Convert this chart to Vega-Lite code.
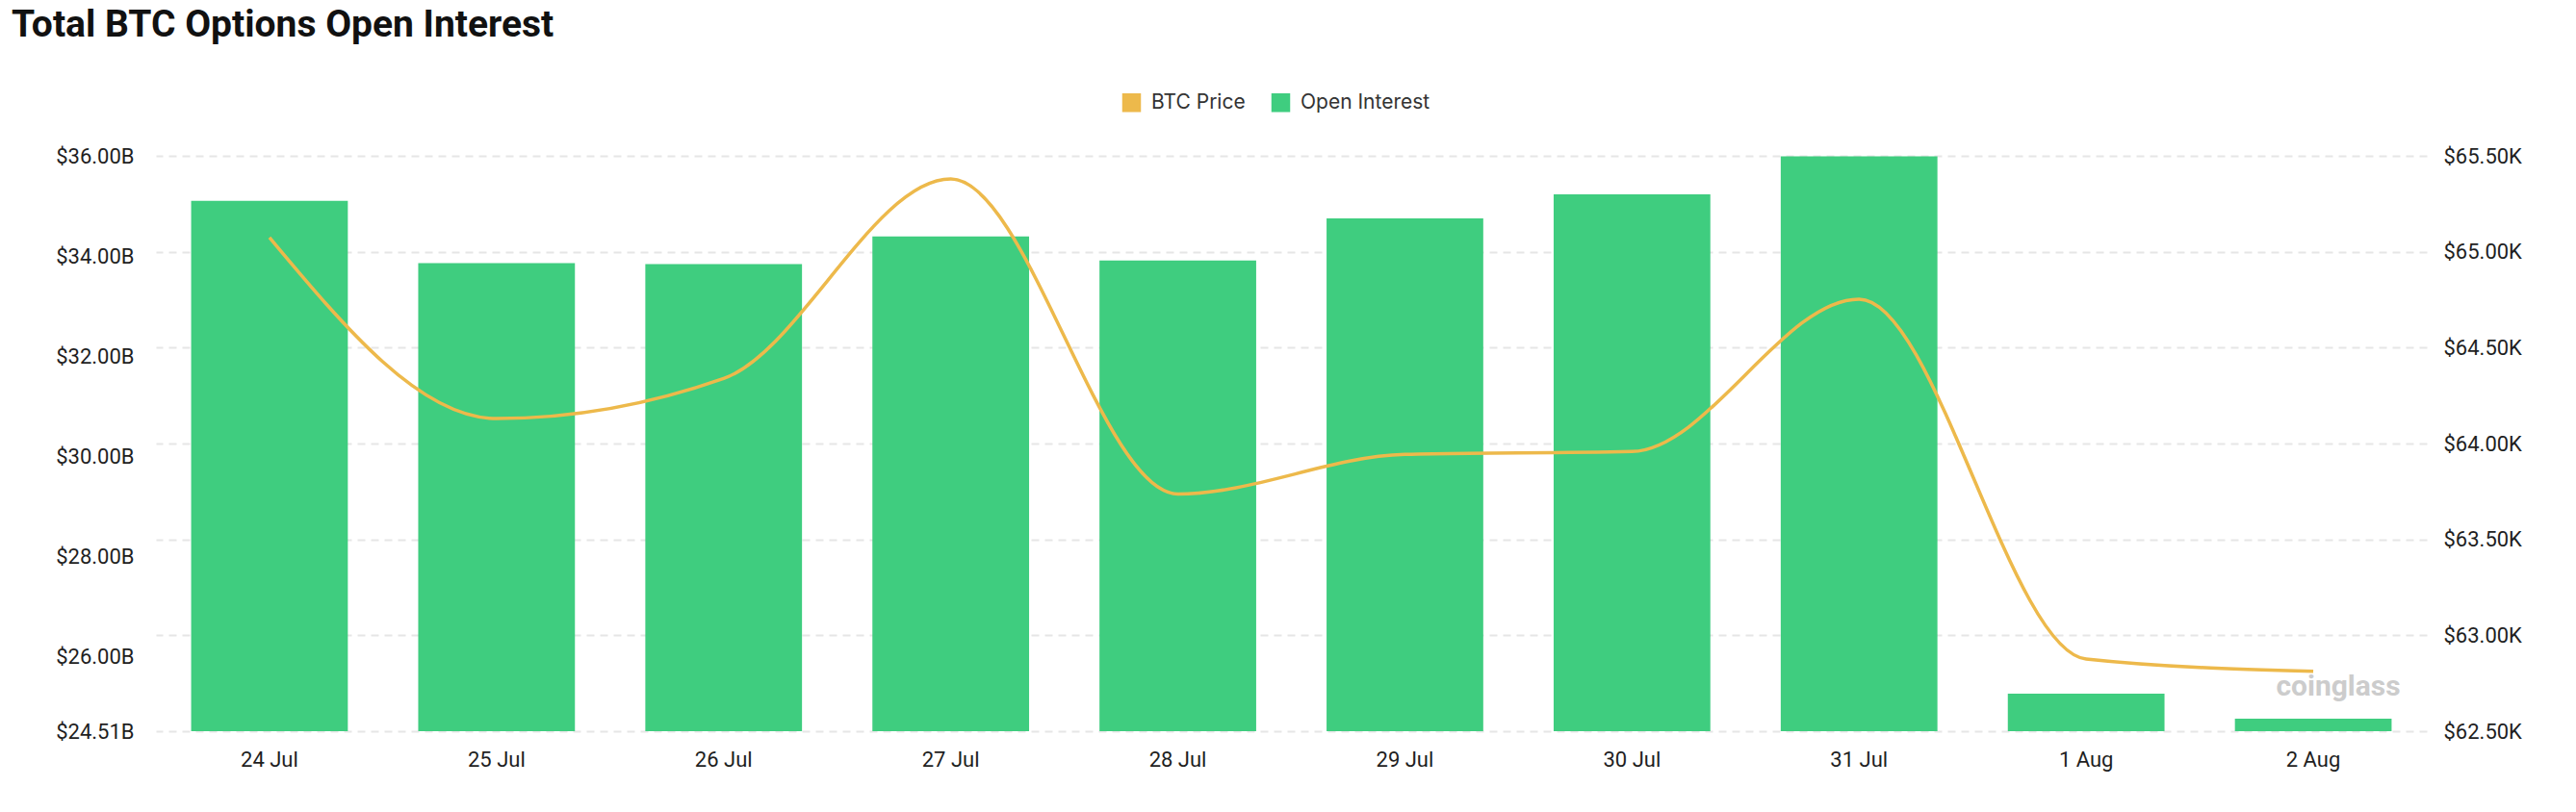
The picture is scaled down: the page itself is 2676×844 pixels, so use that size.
{
  "$schema": "https://vega.github.io/schema/vega-lite/v6.json",
  "width": 2359,
  "height": 598,
  "autosize": {"type": "none"},
  "padding": {"left": 162, "top": 162, "right": 155, "bottom": 84},
  "background": "white",
  "title": {
    "text": "Total BTC Options Open Interest",
    "anchor": "start",
    "frame": "group",
    "font": "Roboto",
    "fontSize": 39,
    "fontWeight": "bold",
    "color": "#111111",
    "dx": -150,
    "offset": 50
  },
  "data": {
    "values": [
      {"date": "24 Jul", "oi": 35.10, "price": 65074},
      {"date": "25 Jul", "oi": 33.86, "price": 64130},
      {"date": "26 Jul", "oi": 33.84, "price": 64339},
      {"date": "27 Jul", "oi": 34.39, "price": 65379},
      {"date": "28 Jul", "oi": 33.91, "price": 63737},
      {"date": "29 Jul", "oi": 34.75, "price": 63943},
      {"date": "30 Jul", "oi": 35.23, "price": 63958},
      {"date": "31 Jul", "oi": 35.99, "price": 64753},
      {"date": "1 Aug", "oi": 25.26, "price": 62876},
      {"date": "2 Aug", "oi": 24.76, "price": 62812}
    ]
  },
  "encoding": {
    "x": {
      "field": "date",
      "type": "nominal",
      "sort": null,
      "scale": {"paddingInner": 0.31, "paddingOuter": 0.155},
      "axis": {
        "title": null,
        "domain": false,
        "ticks": false,
        "labelAngle": 0,
        "labelPadding": 19,
        "labelFont": "Roboto",
        "labelFontSize": 22,
        "labelColor": "#1f1f1f"
      }
    }
  },
  "layer": [
    {
      "mark": {"type": "bar", "color": "#3fcd7f"},
      "encoding": {
        "y": {
          "field": "oi",
          "type": "quantitative",
          "scale": {"domain": [24.51, 36], "zero": false, "nice": false},
          "axis": {
            "title": null,
            "orient": "left",
            "values": [24.51, 26, 28, 30, 32, 34, 36],
            "labelExpr": "'$' + format(datum.value, '.2f') + 'B'",
            "grid": false,
            "domain": false,
            "ticks": false,
            "labelPadding": 23,
            "labelFont": "Roboto",
            "labelFontSize": 22,
            "labelColor": "#1f1f1f"
          }
        },
        "y2": {"datum": 24.51},
        "color": {
          "datum": "Open Interest",
          "type": "nominal",
          "scale": {"domain": ["BTC Price", "Open Interest"], "range": ["#edb94b", "#3fcd7f"]},
          "legend": {
            "title": null,
            "orient": "none",
            "direction": "horizontal",
            "legendX": 1003,
            "legendY": -66,
            "symbolType": "square",
            "symbolSize": 380,
            "symbolStrokeWidth": 0,
            "labelFont": "Inter",
            "labelFontSize": 21,
            "labelColor": "#333333",
            "labelOffset": 10,
            "columnPadding": 26,
            "padding": 0
          }
        }
      }
    },
    {
      "mark": {"type": "line", "color": "#edb94b", "strokeWidth": 3.5, "interpolate": "monotone"},
      "encoding": {
        "y": {
          "field": "price",
          "type": "quantitative",
          "scale": {"domain": [62500, 65500], "zero": false, "nice": false},
          "axis": {
            "title": null,
            "orient": "right",
            "values": [62500, 63000, 63500, 64000, 64500, 65000, 65500],
            "labelExpr": "'$' + format(datum.value / 1000, '.2f') + 'K'",
            "grid": true,
            "gridColor": "#e6e6e6",
            "gridWidth": 2,
            "gridDash": [8, 6],
            "domain": false,
            "ticks": false,
            "labelPadding": 17,
            "labelFont": "Roboto",
            "labelFontSize": 22,
            "labelColor": "#1f1f1f"
          }
        }
      }
    },
    {
      "data": {"values": [{}]},
      "mark": {
        "type": "text",
        "text": "coinglass",
        "font": "Roboto",
        "fontSize": 30,
        "fontWeight": "bold",
        "color": "#c4c4c4",
        "opacity": 0.85,
        "dx": 26
      },
      "encoding": {
        "x": {"datum": "2 Aug"},
        "y": {
          "datum": 62731,
          "type": "quantitative",
          "scale": {"domain": [62500, 65500], "zero": false, "nice": false},
          "axis": null
        }
      }
    }
  ],
  "resolve": {"scale": {"y": "independent"}},
  "config": {"view": {"stroke": null}}
}
